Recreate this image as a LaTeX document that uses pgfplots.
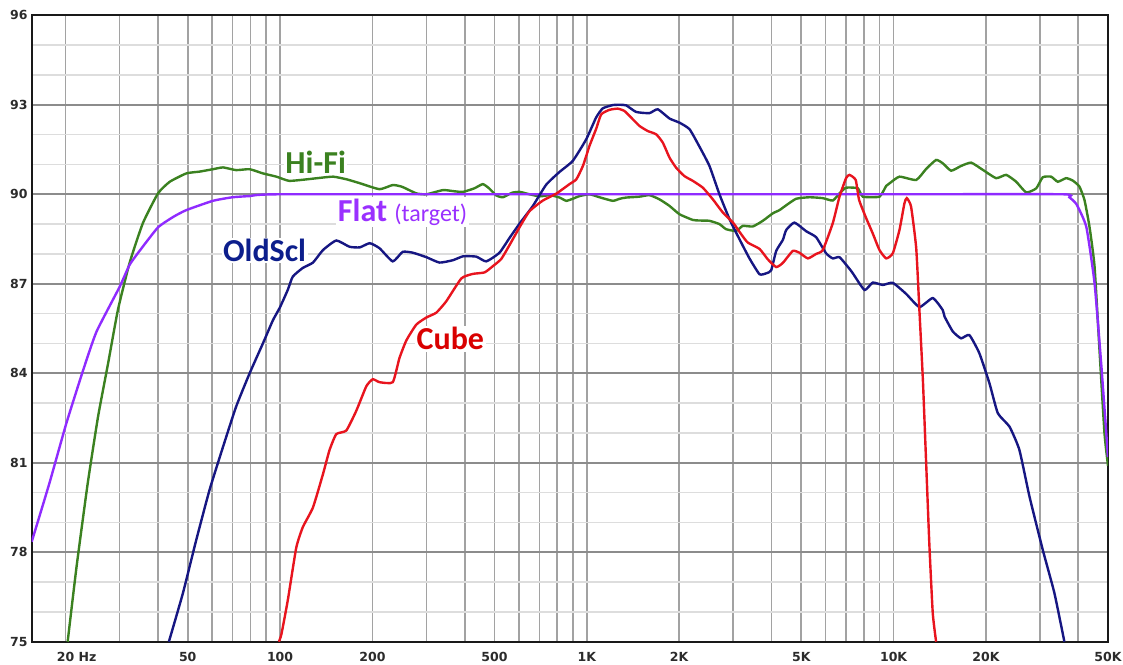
\documentclass[border=0pt]{standalone}
\usepackage{fontspec}
\setmainfont{Carlito}
\newfontfamily\tickfont{DejaVu Sans}
\usepackage{pgfplots}
\pgfplotsset{compat=1.18}
\definecolor{hifi}{HTML}{3B8120}
\definecolor{flatc}{HTML}{8F2BFF}
\definecolor{flatt}{HTML}{9A30FF}
\definecolor{oldc}{HTML}{161682}
\definecolor{oldt}{HTML}{0C1E8C}
\definecolor{cubec}{HTML}{E8141E}
\definecolor{cubet}{HTML}{D90000}
\definecolor{tickc}{HTML}{2B2B2B}
\definecolor{vgrid}{HTML}{A2A2A2}
\definecolor{hmaj}{HTML}{8C8C8C}
\definecolor{hmin}{HTML}{DDDDDD}
\begin{document}
\begin{tikzpicture}
\useasboundingbox (0,0) rectangle (1123pt,664pt);
\begin{axis}[
  at={(31.7pt,22.3pt)}, anchor=south west,
  scale only axis, width=1076.3pt, height=626.4pt,
  xmode=log, xmin=15.5, xmax=50000, ymin=75, ymax=96,
  xtick={20,30,40,50,60,70,80,90,100,200,300,400,500,600,700,800,900,1000,2000,3000,4000,5000,6000,7000,8000,9000,10000,20000,30000,40000,50000},
  xticklabels={20\rlap{ Hz},,,50,,,,,100,200,,,500,,,,,1K,2K,,,5K,,,,,10K,20K,,,50K},
  minor xtick={},
  ytick={75,78,81,84,87,90,93,96},
  minor ytick={76,77,79,80,82,83,85,86,88,89,91,92,94,95},
  xmajorgrids=true, xminorgrids=false,
  ymajorgrids=true, yminorgrids=true,
  major x grid style={color=vgrid, line width=1.6pt},
  major y grid style={color=hmaj, line width=1.8pt},
  minor y grid style={color=hmin, line width=1.6pt},
  major tick length=0pt, minor tick length=0pt,
  axis line style={line width=2.4pt, color=black!90},
  /pgf/number format/assume math mode=true,
  xticklabel style={font=\tickfont\bfseries\fontsize{12.5}{13}\selectfont, text=tickc, anchor=north, inner sep=0pt, yshift=-10pt},
  yticklabel style={font=\tickfont\bfseries\fontsize{12.5}{13}\selectfont, text=tickc, anchor=east, inner sep=0pt, xshift=-4pt},
  clip=true,
  every axis plot/.append style={line width=2.4pt, smooth, tension=0.3},
]
\node[anchor=base, text=hifi, fill=white, inner sep=1.5pt, font=\bfseries\fontsize{32}{32}\selectfont] at (axis cs:130.6,90.70) {Hi-Fi};
\node[anchor=base, text=flatt, fill=white, inner sep=1.5pt, font=\fontsize{32}{32}\selectfont] at (axis cs:250.8,89.10) {\bfseries Flat {\mdseries\fontsize{24}{24}\selectfont (target)}};
\node[anchor=base, text=oldt, fill=white, inner sep=1.5pt, font=\bfseries\fontsize{32}{32}\selectfont] at (axis cs:89.0,87.74) {OldScl};
\node[anchor=base, text=cubet, fill=white, inner sep=1.5pt, font=\bfseries\fontsize{32}{32}\selectfont] at (axis cs:359,84.78) {Cube};

% Hi-Fi
\addplot[color=hifi] table {
f v
20.3 75
21.7 77.51
23.6 80.31
25.5 82.54
27.5 84.33
29.6 86.12
32.3 87.69
35.7 89.03
40 90.03
43.7 90.42
49.5 90.7
54.7 90.76
60.4 90.84
65.2 90.9
71.9 90.81
79.6 90.84
87.9 90.7
97.3 90.59
107 90.45
122 90.5
135 90.55
149 90.59
165 90.5
182 90.37
211 90.17
233 90.31
250 90.25
278 90.03
300 90.0
340 90.14
370 90.10
395 90.08
430 90.2
458 90.34
480 90.2
507 89.96
533 89.9
570 90.05
604 90.08
650 90.0
701 89.93
760 89.97
815 89.89
857 89.78
900 89.85
947 89.94
1020 90.0
1100 89.9
1215 89.78
1280 89.85
1344 89.89
1485 89.92
1600 89.97
1725 89.83
1860 89.61
2005 89.33
2215 89.14
2328 89.12
2510 89.11
2706 89.0
2844 88.83
3068 88.77
3224 88.94
3475 88.92
3746 89.11
4038 89.36
4248 89.47
4465 89.63
4813 89.85
5318 89.9
5878 89.87
6335 89.79
6664 90.03
7000 90.22
7646 90.2
7940 89.92
8995 89.92
9460 90.28
9710 90.37
10450 90.59
11850 90.48
12770 90.85
13760 91.15
14460 91.04
15400 90.79
16600 90.95
17900 91.06
19530 90.82
21590 90.54
23280 90.65
25100 90.42
27070 90.06
29180 90.2
30640 90.57
32630 90.59
34300 90.42
36500 90.54
38370 90.46
40330 90.26
41900 89.81
43500 88.92
45200 87.58
46900 84.78
48700 81.99
50000 80.9
};

% Flat (target)
\addplot[color=flatc] table {
f v
15.5 78.35
17.7 80.31
20.1 82.32
22.8 84.1
25.2 85.39
30.0 86.9
32.3 87.63
35 88.13
40 88.89
45 89.25
49.5 89.47
60.4 89.78
70 89.9
79.6 89.94
100 90
1000 90
10000 90
35500 90
37400 89.9
39500 89.66
42500 88.9
45200 87.02
47600 84.21
50000 81.19
};

% OldScl
\addplot[color=oldc] table {
f v
43.4 75
48.2 76.62
53.3 78.41
58.9 80.09
65.2 81.54
71.9 82.88
79.6 84.0
87.9 85.0
94.8 85.78
99.8 86.2
106 86.8
110 87.24
118.6 87.53
128 87.71
138 88.13
152.5 88.45
168.4 88.24
182 88.22
196 88.36
211 88.19
233 87.75
251 88.07
271 88.04
300 87.89
331 87.71
366 87.79
395 87.92
436 87.91
470 87.75
519 88.04
560 88.54
604 89.02
667 89.61
737 90.32
815 90.75
900 91.12
995 91.84
1073 92.58
1127 92.88
1215 92.99
1280 93.0
1344 92.98
1448 92.76
1600 92.72
1703 92.85
1860 92.54
2005 92.4
2162 92.18
2328 91.6
2510 90.95
2706 90.0
2920 89.16
3146 88.49
3390 87.85
3655 87.32
3845 87.35
3990 87.45
4143 88.1
4355 88.47
4465 88.8
4750 89.05
5190 88.76
5591 88.56
6026 88.02
6335 87.85
6664 87.89
7183 87.5
7365 87.35
8040 86.79
8550 87.04
9220 86.96
9940 87.03
10990 86.66
12140 86.22
13420 86.52
14460 86.12
14660 85.9
15600 85.4
16600 85.17
17660 85.28
19040 84.67
20540 83.66
21870 82.66
23870 82.21
25710 81.43
27730 79.87
30640 78.08
33440 76.63
36040 75.0
};

% Cube
\addplot[color=cubec] table {
f v
99.1 75
101 75.25
106 76.4
112.9 78.15
118.6 78.84
128 79.5
138 80.62
145 81.43
152.5 81.96
164.4 82.08
177 82.73
191 83.56
200.5 83.8
211 83.7
233 83.7
245 84.51
258 85.1
278 85.63
300 85.87
323 86.03
348 86.41
390 87.18
425 87.33
464 87.38
494 87.59
526 87.83
560 88.3
604 88.9
650 89.43
719 89.79
795 90.02
878 90.34
924 90.5
971 90.95
1020 91.62
1073 92.2
1114 92.68
1185 92.83
1262 92.87
1327 92.79
1395 92.57
1485 92.29
1580 92.12
1683 92.01
1769 91.73
1860 91.23
1955 90.89
2080 90.61
2215 90.45
2389 90.22
2575 89.83
2775 89.39
2995 89.05
3186 88.66
3348 88.38
3655 88.17
3890 87.82
4143 87.56
4355 87.7
4692 88.1
4932 88.04
5253 87.85
5591 88.0
5878 88.13
6335 89.03
6664 89.92
7000 90.54
7183 90.65
7525 90.48
7720 89.81
8140 89.2
8550 88.69
8995 88.13
9460 87.85
9940 88.02
10450 88.8
10850 89.7
11040 89.87
11400 89.59
11850 88.2
12140 86.1
12460 83.77
12770 80.98
13090 78.18
13420 75.95
13760 75
};
\end{axis}
\end{tikzpicture}
\end{document}
